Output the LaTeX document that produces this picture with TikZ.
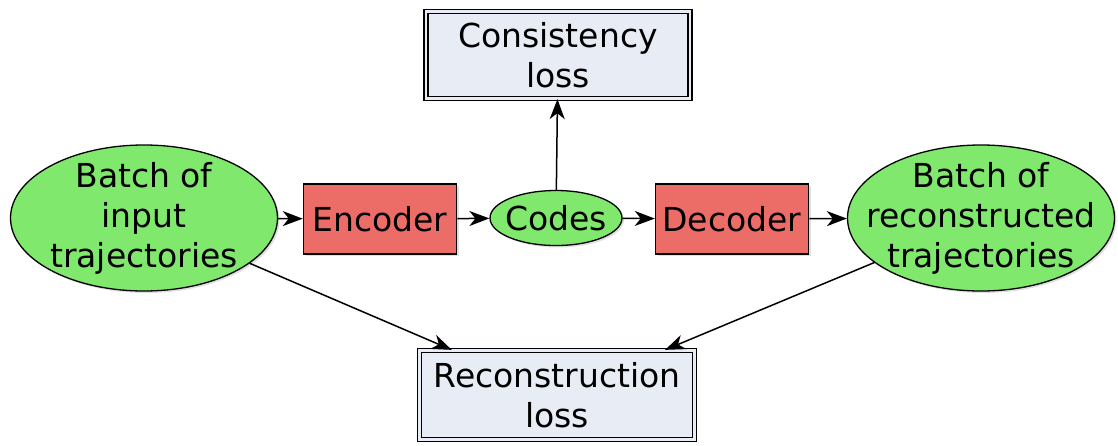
\documentclass[tikz,border=0pt]{standalone}
\usepackage{fontspec}
\setmainfont{DejaVu Sans}
\usepackage{tikz}
\usetikzlibrary{shapes.geometric,arrows.meta,shadows}
\usetikzlibrary{positioning}

\definecolor{datagreen}{HTML}{80E86C}
\definecolor{netred}{HTML}{EC6D68}
\definecolor{lossblue}{HTML}{E8ECF5}

\tikzset{
	softshadow/.style={drop shadow={opacity=0.25,shadow xshift=2pt,shadow yshift=-2pt}},
	data/.style={ellipse,draw=black,line width=1.3pt,fill=datagreen,softshadow,align=center,inner sep=-40pt},
	net/.style={rectangle,draw=black,line width=1.5pt,fill=netred,softshadow,minimum width=153pt,minimum height=70pt,inner sep=0pt},
	lossbox/.style={rectangle,draw=black,line width=1.3pt,double=lossblue,double distance=2.5pt,fill=lossblue,softshadow,align=center,inner sep=0pt},
	flow/.style={-{Stealth[length=20pt,width=15pt,inset=6pt]},line width=1.5pt}
}

\begin{document}
\begin{tikzpicture}[x=1pt,y=-1pt,font=\fontsize{33}{40}\selectfont]
			\useasboundingbox (0,0) rectangle (1118,445);
			%data ellipses
			\node[data,minimum width=267pt,minimum height=146pt] (batchin) at (144,218) {Batch of\\input\\trajectories};
			\node[data,minimum width=132pt,minimum height=55pt] (codes) at (556,218) {Codes};
			\node[data,minimum width=267pt,minimum height=146pt] (batchout) at (981,218) {Batch of\\reconstructed\\trajectories};
			%networks
			\node[net] (encoder) at (380,219) {Encoder};
			\node[net] (decoder) at (732,219) {Decoder};
			%losses
			\node[lossbox,minimum width=264pt,minimum height=87pt] (consist) at (558,55) {Consistency\\loss};
			\node[lossbox,minimum width=275pt,minimum height=89pt] (recon) at (557,395) {Reconstruction\\loss};
			%arrows
			\draw[flow] (batchin)--(encoder);
			\draw[flow] (encoder)--(codes);
			\draw[flow] (codes)--(decoder);
			\draw[flow] (decoder)--(batchout);
			\draw[flow] (codes)--(consist);
			\draw[flow] (batchin)--(recon);
			\draw[flow] (batchout)--(recon);
\end{tikzpicture}
\end{document}
